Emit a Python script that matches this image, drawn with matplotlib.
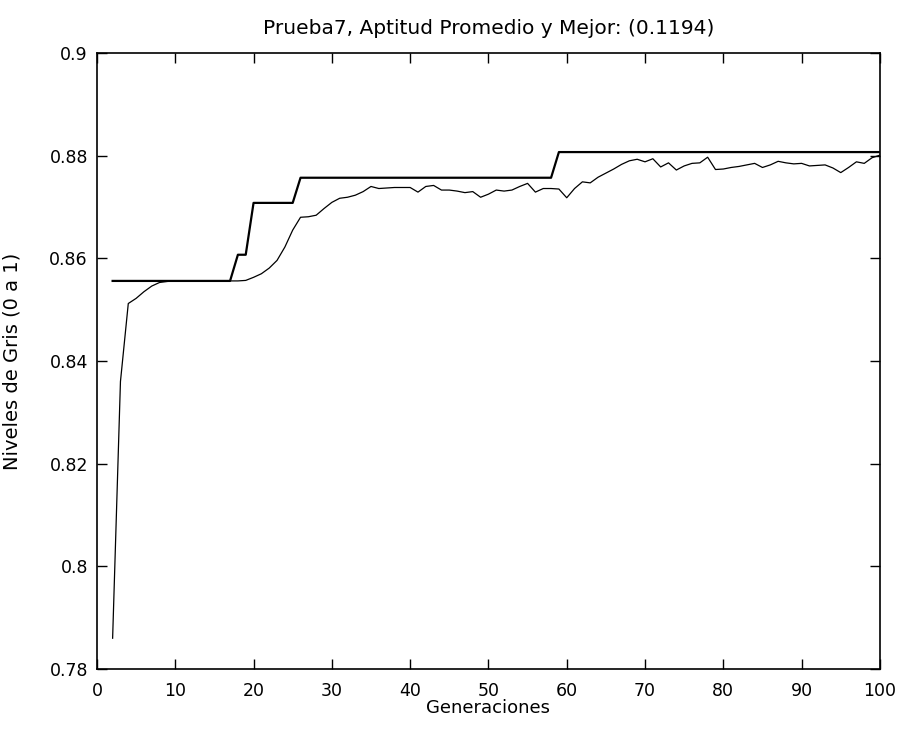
import numpy as np
import matplotlib
matplotlib.use("Agg")
import matplotlib.pyplot as plt

plt.rcParams['font.family'] = ['DejaVu Sans']

# generaciones 2..100
generaciones = list(range(2, 101))

# aptitud promedio por generacion
promedio = [
    0.7860, 0.8360, 0.8512, 0.8522, 0.8535, 0.8546, 0.8553, 0.8555,
    0.8556, 0.8556, 0.8556, 0.8556, 0.8556, 0.8556, 0.8556, 0.8556, 0.8556,
    0.8557, 0.8563, 0.8570, 0.8581, 0.8596, 0.8622, 0.8655, 0.8680,
    0.8681, 0.8684, 0.8697, 0.8709, 0.8717, 0.8719, 0.8723, 0.8730,
    0.8740, 0.8736, 0.8737, 0.8738, 0.8738, 0.8738, 0.8729, 0.8740,
    0.8742, 0.8733, 0.8733, 0.8731, 0.8728, 0.8730, 0.8719, 0.8725,
    0.8733, 0.8731, 0.8733, 0.8740, 0.8746, 0.8729, 0.8736, 0.8736,
    0.8735, 0.8718, 0.8736, 0.8749, 0.8747, 0.8758, 0.8766, 0.8774,
    0.8783, 0.8790, 0.8793, 0.8788, 0.8794, 0.8778, 0.8786, 0.8772,
    0.8780, 0.8785, 0.8786, 0.8797, 0.8773, 0.8774, 0.8777, 0.8779,
    0.8782, 0.8785, 0.8777, 0.8782, 0.8789, 0.8786, 0.8784, 0.8785,
    0.8780, 0.8781, 0.8782, 0.8776, 0.8767, 0.8777, 0.8788, 0.8785,
    0.8796, 0.8801,
]

# mejor aptitud por generacion
mejor = ([0.8556] * 16 + [0.8607] * 2 + [0.8708] * 6
         + [0.8757] * 33 + [0.8807] * 42)

fig = plt.figure(figsize=(9.02, 7.31), dpi=100)
ax = fig.add_axes([0.1075, 0.0848, 0.868, 0.8427])

ax.plot(generaciones, mejor, color="black", linewidth=1.6)
ax.plot(generaciones, promedio, color="black", linewidth=0.9)

ax.set_xlim(0, 100)
ax.set_ylim(0.78, 0.9)
ax.set_xticks(range(0, 101, 10))
ax.set_yticks([0.78, 0.8, 0.82, 0.84, 0.86, 0.88, 0.9])
ax.set_yticklabels(["0.78", "0.8", "0.82", "0.84", "0.86", "0.88", "0.9"])

ax.tick_params(direction="in", length=7, width=1, top=True, right=True,
               labelsize=12.5)
ax.tick_params(axis="x", pad=9)
ax.tick_params(axis="y", pad=6.5)
for s in ax.spines.values():
    s.set_linewidth(1.2)

ax.set_title("Prueba7, Aptitud Promedio y Mejor: (0.1194)", fontsize=14.5, pad=14)
ax.set_xlabel("Generaciones", fontsize=13)
ax.set_ylabel("Niveles de Gris (0 a 1)", fontsize=14)
ax.xaxis.set_label_coords(0.5, -0.049)
ax.yaxis.set_label_coords(-0.096, 0.5)

fig.savefig("out.png", dpi=100)
